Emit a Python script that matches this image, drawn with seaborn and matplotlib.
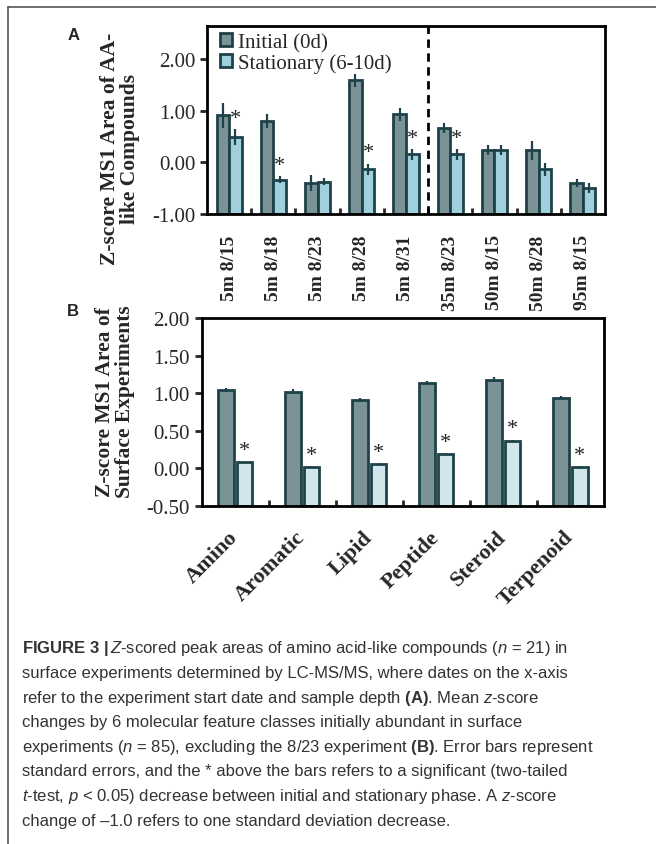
import numpy as np
import pandas as pd
import matplotlib
matplotlib.use("Agg")
import matplotlib.pyplot as plt
from matplotlib.patches import Patch
from matplotlib.lines import Line2D
import seaborn as sns

# -------------------------------
# Data
# -------------------------------
groups_a = ["5m 8/15", "5m 8/18", "5m 8/23", "5m 8/28", "5m 8/31",
            "35m 8/23", "50m 8/15", "50m 8/28", "95m 8/15"]
initial_a = [0.91, 0.80, -0.41, 1.59, 0.93, 0.66, 0.24, 0.23, -0.40]
initial_a_err = [0.25, 0.13, 0.15, 0.12, 0.13, 0.10, 0.10, 0.18, 0.08]
stationary_a = [0.49, -0.34, -0.38, -0.14, 0.15, 0.15, 0.24, -0.14, -0.50]
stationary_a_err = [0.15, 0.07, 0.07, 0.11, 0.10, 0.10, 0.10, 0.13, 0.10]
signif_a = [True, True, False, True, True, True, False, False, False]

classes_b = ["Amino", "Aromatic", "Lipid", "Peptide", "Steroid", "Terpenoid"]
initial_b = [1.04, 1.02, 0.91, 1.14, 1.18, 0.94]
initial_b_err = [0.03, 0.03, 0.03, 0.02, 0.03, 0.02]
stationary_b = [0.08, 0.02, 0.06, 0.19, 0.37, 0.02]
stationary_b_err = [0.01, 0.01, 0.01, 0.01, 0.01, 0.01]
signif_b = [True, True, True, True, True, True]

phases = ["Initial (0d)", "Stationary (6-10d)"]

caption_lines = [
    r"$\mathbf{FIGURE\ 3\ |}\,Z$-scored peak areas of amino acid-like compounds ($n$ = 21) in",
    "surface experiments determined by LC-MS/MS, where dates on the x-axis",
    r"refer to the experiment start date and sample depth $\mathbf{(A)}$. Mean $z$-score",
    "changes by 6 molecular feature classes initially abundant in surface",
    r"experiments ($n$ = 85), excluding the 8/23 experiment $\mathbf{(B)}$. Error bars represent",
    "standard errors, and the * above the bars refers to a significant (two-tailed",
    r"$t$-test, $p$ < 0.05) decrease between initial and stationary phase. A $z$-score",
    "change of \u20131.0 refers to one standard deviation decrease.",
]

sns.set_style("ticks")
plt.rcParams["font.family"] = ["Liberation Serif", "DejaVu Serif"]
plt.rcParams["axes.unicode_minus"] = False
plt.rcParams["mathtext.fontset"] = "custom"
plt.rcParams["mathtext.rm"] = "Liberation Sans"
plt.rcParams["mathtext.it"] = "Liberation Sans:italic"
plt.rcParams["mathtext.bf"] = "Liberation Sans:bold"

edge = "#1e4249"
col_init = "#7b9296"
col_stat_a = "#9fd0dc"
col_stat_b = "#d0e6ea"

W, H = 656, 845
fig = plt.figure(figsize=(W / 100, H / 100), dpi=100)


def px_axes(left, top, right, bottom):
    return fig.add_axes([left / W, 1 - bottom / H, (right - left) / W, (bottom - top) / H])


def draw_panel(ax, cats, init, init_err, stat, stat_err, signif, stat_color,
               base, width, gap):
    df = pd.DataFrame({
        "cat": cats * 2,
        "phase": [phases[0]] * len(cats) + [phases[1]] * len(cats),
        "z": list(init) + list(stat),
    })
    sns.barplot(data=df, x="cat", y="z", hue="phase", hue_order=phases,
                palette=[col_init, stat_color], edgecolor=edge, linewidth=2,
                width=width, gap=gap, errorbar=None, legend=False, ax=ax,
                saturation=1)
    # Excel style: bars start at the bottom of the axis
    errs = [init_err, stat_err]
    bar_conts = list(ax.containers)
    for k, cont in enumerate(bar_conts):
        xs, ys = [], []
        for p in cont.patches:
            h = p.get_height()
            p.set_y(base)
            p.set_height(h - base)
            xs.append(p.get_x() + p.get_width() / 2)
            ys.append(h)
        ax.errorbar(xs, ys, yerr=errs[k], fmt="none", ecolor=edge,
                    elinewidth=1.6, capsize=0, zorder=3)
        if k == 1:
            for x, y, e, s in zip(xs, ys, stat_err, signif):
                if s:
                    ax.annotate("*", (x, y + e), xytext=(0, 1),
                                textcoords="offset points", ha="center",
                                va="bottom", fontsize=16)
    n = len(cats)
    ax.set_xlim(-0.5, n - 0.5)
    ax.set_xlabel("")
    ax.set_xticks(np.arange(0.5, n - 1, 1), minor=True)
    ax.tick_params(axis="x", which="major", length=0)
    ax.tick_params(axis="x", which="minor", direction="in", length=4, width=2)
    ax.tick_params(axis="y", direction="out", length=5, width=2, labelsize=15)
    for s in ax.spines.values():
        s.set_visible(True)
        s.set_linewidth(2)
        s.set_color("black")


# -------------------------------
# Panel A
# -------------------------------
ax_a = px_axes(207, 27, 605, 214.5)
draw_panel(ax_a, groups_a, initial_a, initial_a_err, stationary_a,
           stationary_a_err, signif_a, col_stat_a, -1.0, 0.57, 0)
ax_a.set_ylim(-1, 2.65)
ax_a.set_yticks([-1, 0, 1, 2])
ax_a.set_yticklabels(["%.2f" % v for v in [-1, 0, 1, 2]])
ax_a.set_xticks(range(len(groups_a)))
ax_a.set_xticklabels(groups_a, rotation=90, fontweight="bold", fontsize=14)
ax_a.tick_params(axis="x", which="major", pad=15)
ax_a.axvline(4.5, color="black", linestyle=(0, (3, 2)), linewidth=2)
ax_a.set_ylabel("Z-score MS1 Area of AA-\nlike Compounds", fontweight="bold",
                fontsize=15.5, linespacing=1.0)
ax_a.yaxis.set_label_coords(-0.168, 0.35)
handles = [Patch(facecolor=col_init, edgecolor=edge, linewidth=2),
           Patch(facecolor=col_stat_a, edgecolor=edge, linewidth=2)]
ax_a.legend(handles, phases, loc="upper left", bbox_to_anchor=(0.0, 1.03),
            frameon=False, fontsize=15, handlelength=0.6, handleheight=0.6,
            handletextpad=0.3, labelspacing=0.05, borderaxespad=0.2)

# -------------------------------
# Panel B
# -------------------------------
ax_b = px_axes(201.7, 319, 604, 507)
draw_panel(ax_b, classes_b, initial_b, initial_b_err, stationary_b,
           stationary_b_err, signif_b, col_stat_b, -0.5, 0.55, 0.15)
ax_b.set_ylim(-0.5, 2.0)
ticks_b = [-0.5, 0, 0.5, 1.0, 1.5, 2.0]
ax_b.set_yticks(ticks_b)
ax_b.set_yticklabels(["%.2f" % v for v in ticks_b])
ax_b.set_xticks(range(len(classes_b)))
ax_b.set_xticklabels(classes_b, rotation=45, ha="right", va="center",
                     rotation_mode="anchor", fontweight="bold", fontsize=16)
ax_b.tick_params(axis="x", which="major", pad=20)
ax_b.set_ylabel("Z-score MS1 Area of\nSurface Experiments", fontweight="bold",
                fontsize=15.5, linespacing=1.0)
ax_b.yaxis.set_label_coords(-0.166, 0.558)

# panel letters
fig.text(68 / W, 1 - 36 / H, "A", fontfamily="Liberation Sans",
         fontweight="bold", fontsize=12, va="center")
fig.text(67 / W, 1 - 311 / H, "B", fontfamily="Liberation Sans",
         fontweight="bold", fontsize=12, va="center")

# page frame (top and left rules)
fig.add_artist(Line2D([8 / W, 1], [1 - 8 / H, 1 - 8 / H], color="#555555", lw=1.2))
fig.add_artist(Line2D([8 / W, 8 / W], [0, 1 - 8 / H], color="#555555", lw=1.2))

# caption
for i, line in enumerate(caption_lines):
    fig.text(22 / W, 1 - (649 + 24.6 * i) / H, line,
             fontfamily="Liberation Sans", fontsize=12, color="#333333",
             va="center", ha="left")

fig.savefig("out.png", dpi=100)
